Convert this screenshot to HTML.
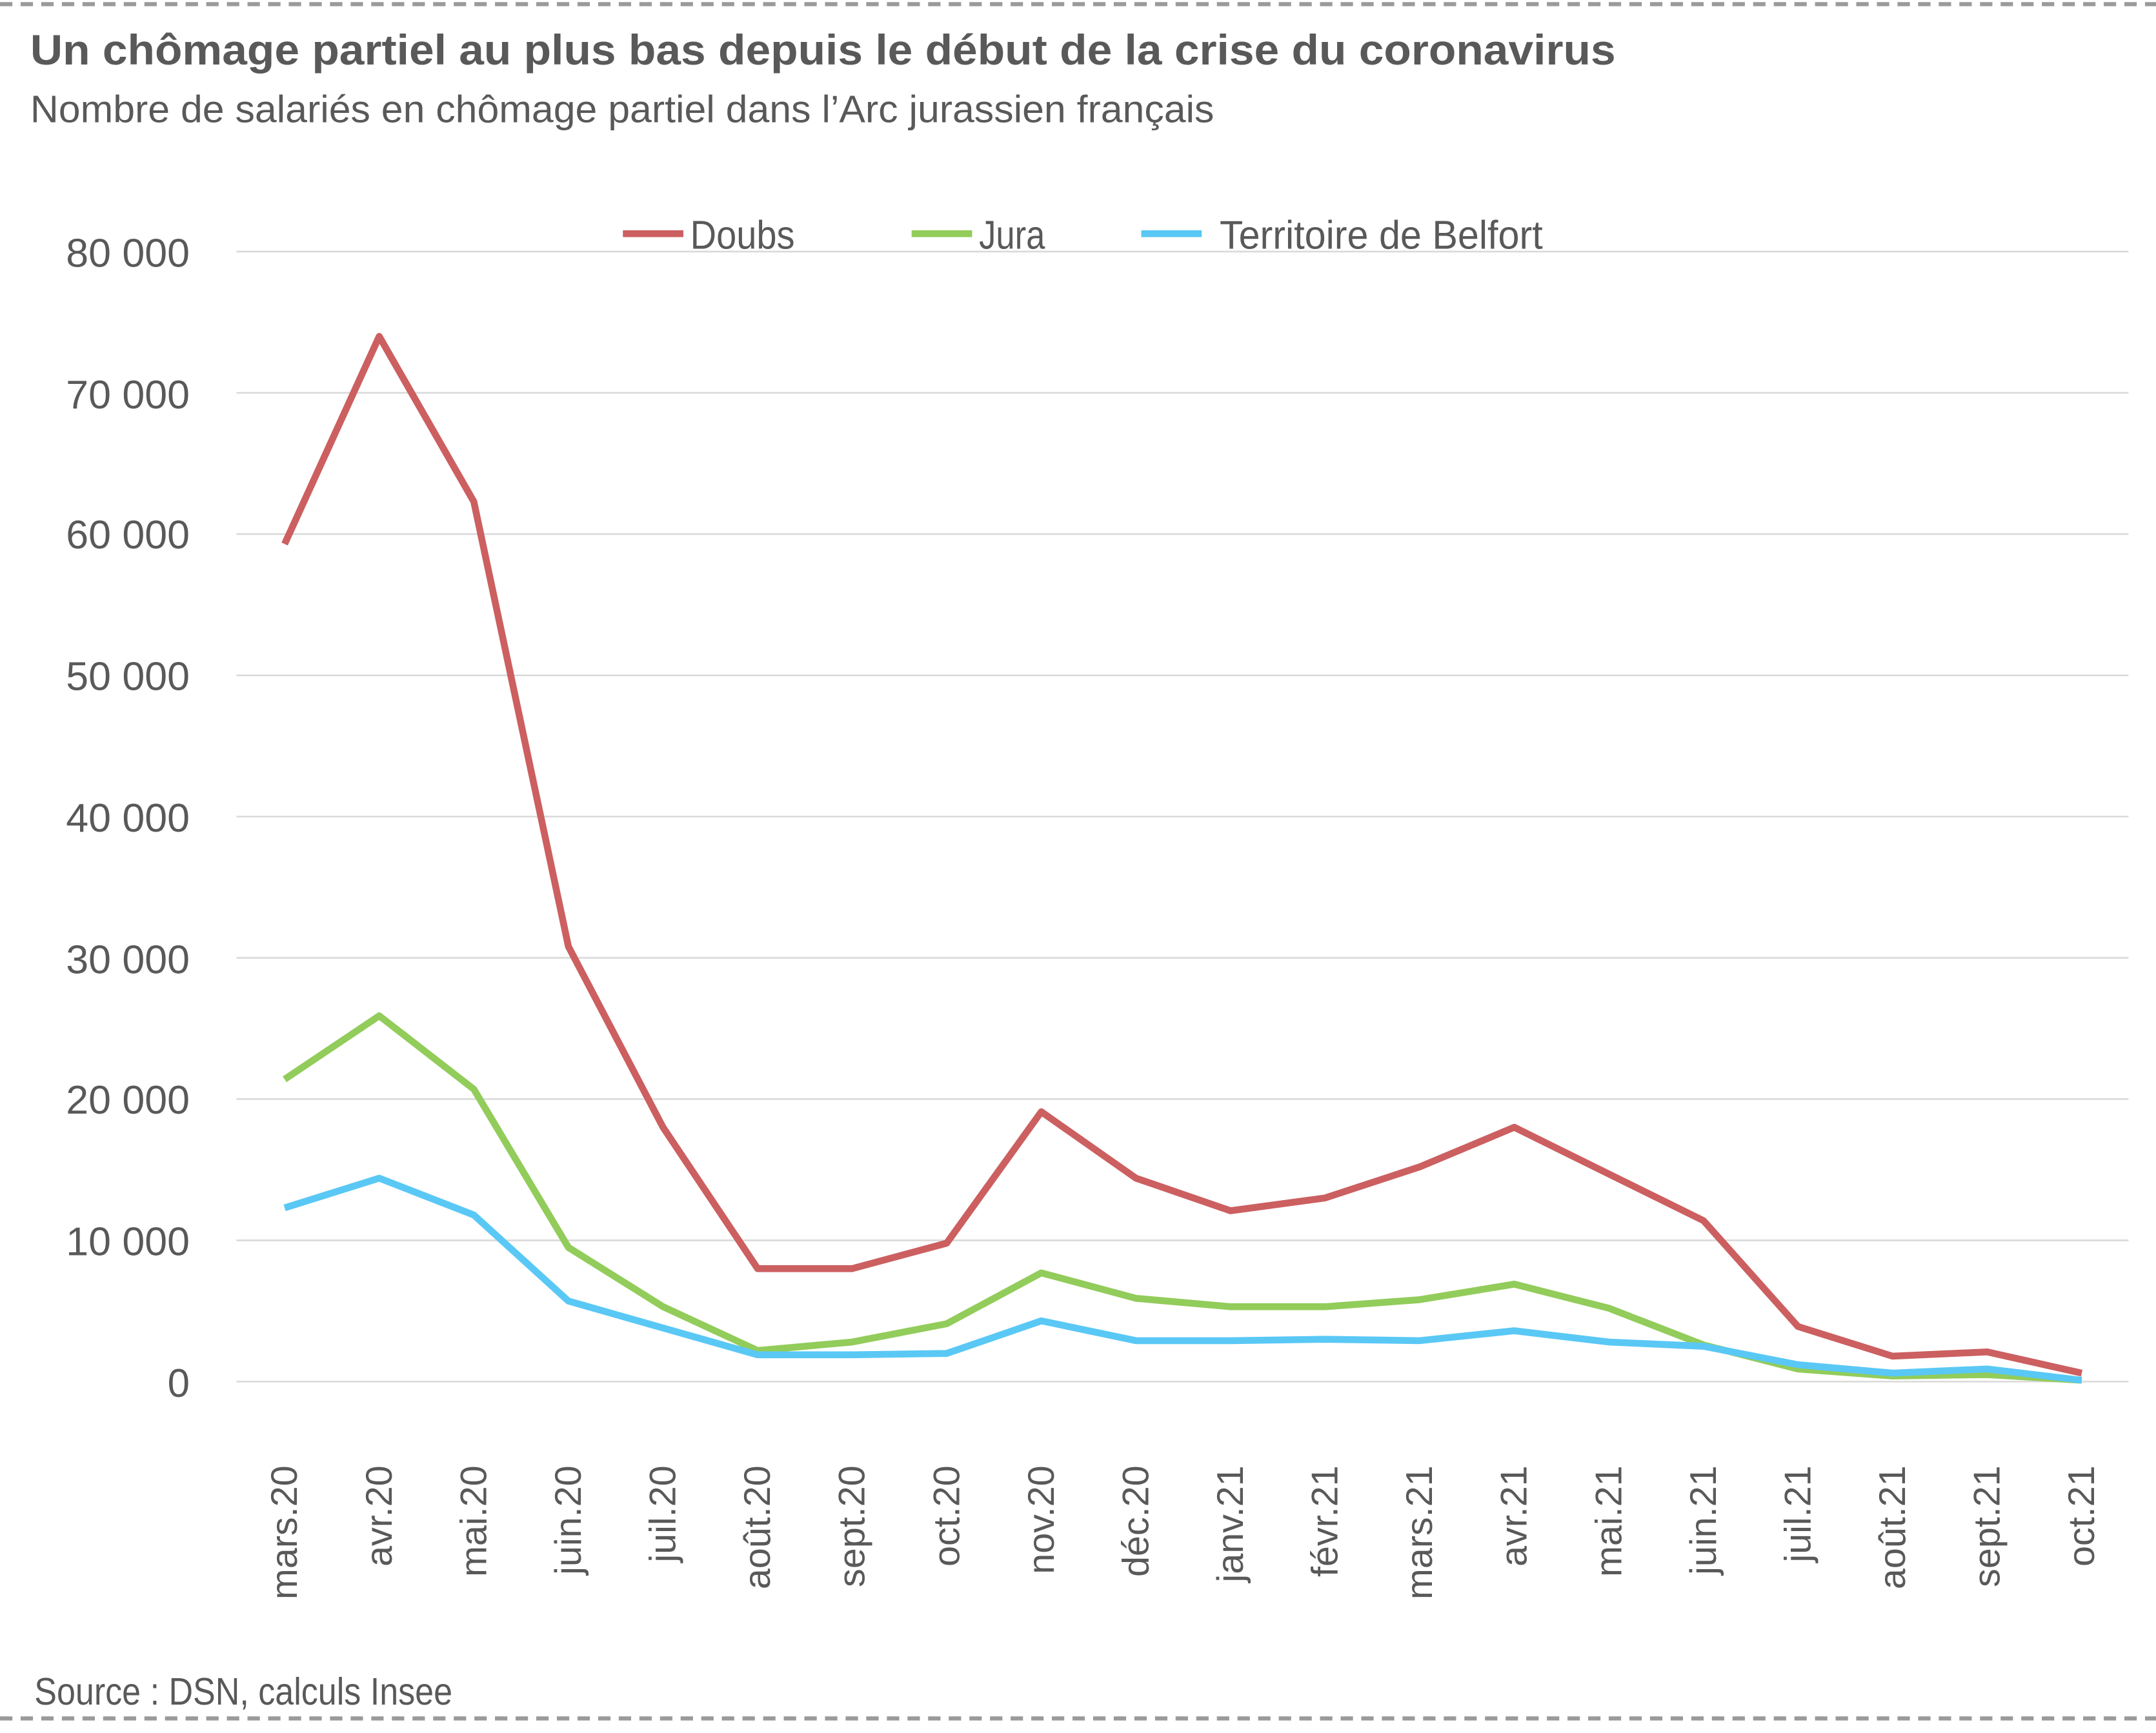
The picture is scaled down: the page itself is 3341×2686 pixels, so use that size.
<!DOCTYPE html>
<html><head><meta charset="utf-8"><style>
html,body{margin:0;padding:0;background:#fff;}
svg{display:block}
text{font-family:"Liberation Sans Narrow","Liberation Sans",sans-serif;fill:#595959}
</style></head><body>
<svg width="3341" height="2686" viewBox="0 0 1568 1260.6" preserveAspectRatio="none" xmlns="http://www.w3.org/2000/svg">
<line x1="0" y1="3" x2="1568" y2="3" stroke="#9a9a9a" stroke-width="3" stroke-dasharray="9,6"/>
<line x1="0" y1="1250" x2="1568" y2="1250" stroke="#9a9a9a" stroke-width="3" stroke-dasharray="9,6"/>
<text x="22" y="47" font-size="31" font-weight="bold" textLength="1153" lengthAdjust="spacingAndGlyphs">Un chômage partiel au plus bas depuis le début de la crise du coronavirus</text>
<text x="22" y="89" font-size="28" textLength="861" lengthAdjust="spacingAndGlyphs">Nombre de salariés en chômage partiel dans l’Arc jurassien français</text>
<g stroke="#d9d9d9" stroke-width="1.2">
<line x1="172" x2="1548" y1="183" y2="183"/><line x1="172" x2="1548" y1="285.75" y2="285.75"/>
<line x1="172" x2="1548" y1="388.5" y2="388.5"/><line x1="172" x2="1548" y1="491.25" y2="491.25"/>
<line x1="172" x2="1548" y1="594" y2="594"/><line x1="172" x2="1548" y1="696.75" y2="696.75"/>
<line x1="172" x2="1548" y1="799.5" y2="799.5"/><line x1="172" x2="1548" y1="902.25" y2="902.25"/>
<line x1="172" x2="1548" y1="1005" y2="1005"/>
</g>
<g font-size="29" text-anchor="end">
<text x="138" y="194" textLength="90" lengthAdjust="spacingAndGlyphs">80 000</text><text x="138" y="297" textLength="90" lengthAdjust="spacingAndGlyphs">70 000</text><text x="138" y="399" textLength="90" lengthAdjust="spacingAndGlyphs">60 000</text>
<text x="138" y="502" textLength="90" lengthAdjust="spacingAndGlyphs">50 000</text><text x="138" y="605" textLength="90" lengthAdjust="spacingAndGlyphs">40 000</text><text x="138" y="708" textLength="90" lengthAdjust="spacingAndGlyphs">30 000</text>
<text x="138" y="810" textLength="90" lengthAdjust="spacingAndGlyphs">20 000</text><text x="138" y="913" textLength="90" lengthAdjust="spacingAndGlyphs">10 000</text><text x="138" y="1016">0</text>
</g>
<g font-size="27" text-anchor="end" id="xl"></g>
<g fill="none" stroke-width="5" stroke-linejoin="round">
<polyline id="d" stroke="#cc5f60"/>
<polyline id="j" stroke="#92cc5a"/>
<polyline id="b" stroke="#5ac8f5"/>
</g>
<g stroke-width="5">
<line x1="453" x2="497" y1="170" y2="170" stroke="#cc5f60"/>
<line x1="663" x2="707" y1="170" y2="170" stroke="#92cc5a"/>
<line x1="830" x2="874" y1="170" y2="170" stroke="#5ac8f5"/>
</g>
<g font-size="29">
<text x="502" y="181" textLength="76" lengthAdjust="spacingAndGlyphs">Doubs</text><text x="712" y="181" textLength="48" lengthAdjust="spacingAndGlyphs">Jura</text><text x="887" y="181" textLength="235" lengthAdjust="spacingAndGlyphs">Territoire de Belfort</text>
</g>
<text x="25" y="1240" font-size="28" textLength="304" lengthAdjust="spacingAndGlyphs">Source : DSN, calculs Insee</text>
<script>
var D=[59300,74000,62300,30800,18000,8000,8000,9800,19100,14400,12100,13000,15200,18000,14700,11400,3900,1800,2100,600];
var J=[21400,25900,20700,9500,5300,2200,2800,4100,7700,5900,5300,5300,5800,6900,5200,2600,900,400,500,100];
var B=[12300,14400,11800,5700,3800,1900,1900,2000,4300,2900,2900,3000,2900,3600,2800,2500,1200,600,900,100];
var L=["mars.20","avr.20","mai.20","juin.20","juil.20","août.20","sept.20","oct.20","nov.20","déc.20","janv.21","févr.21","mars.21","avr.21","mai.21","juin.21","juil.21","août.21","sept.21","oct.21"];
function X(i){return 207+i*68.79}
function Y(v){return 1005-v*0.010275}
function pts(a){return a.map(function(v,i){return X(i).toFixed(1)+","+Y(v).toFixed(1)}).join(" ")}
document.getElementById("d").setAttribute("points",pts(D));
document.getElementById("j").setAttribute("points",pts(J));
document.getElementById("b").setAttribute("points",pts(B));
var g=document.getElementById("xl"),ns="http://www.w3.org/2000/svg";
L.forEach(function(s,i){var t=document.createElementNS(ns,"text");var x=X(i)+9,y=1066;
t.setAttribute("x",x);t.setAttribute("y",y);t.setAttribute("transform","rotate(-90 "+x+" "+y+")");t.textContent=s;g.appendChild(t);});
</script>
</svg>
</body></html>
